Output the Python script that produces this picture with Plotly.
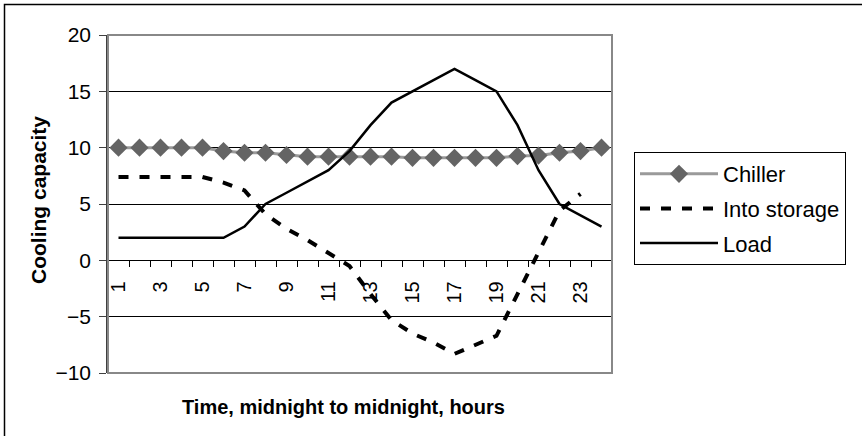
import plotly.graph_objects as go

hours = list(range(1, 25))
tick_hours = [1, 3, 5, 7, 9, 11, 13, 15, 17, 19, 21, 23]
tick_labels = [str(h) for h in tick_hours]

chiller = [10, 10, 10, 10, 10, 9.7, 9.55, 9.55, 9.35, 9.2, 9.2, 9.2,
           9.2, 9.2, 9.1, 9.1, 9.1, 9.1, 9.1, 9.25, 9.3, 9.55, 9.7, 10]
into_storage = [7.4, 7.4, 7.4, 7.4, 7.4, 6.9, 6.2, 4.1, 2.8, 1.8, 0.6, -0.5,
                -3.0, -5.3, -6.5, -7.3, -8.3, -7.5, -6.7, -3.0, 0.8, 4.4, 5.9, None]
load = [2, 2, 2, 2, 2, 2, 3, 5, 6, 7, 8, 9.7,
        12, 14, 15, 16, 17, 16, 15, 12, 8, 5, 4, 3]

y_ticks = [-10, -5, 0, 5, 10, 15, 20]
y_tick_text = ["\u221210", "\u22125", "0", "5", "10", "15", "20"]

W, H = 862, 436
L, R, T, B = 108, 612, 35, 373
pw, ph = R - L, B - T

def px(x):
    return (x - L) / pw

def py(y):
    return (B - y) / ph

FONT = "Liberation Sans, Arial, sans-serif"

fig = go.Figure()
fig.add_trace(go.Scatter(
    x=hours, y=chiller, name="Chiller", mode="lines+markers",
    line=dict(color="#9a9a9a", width=3),
    marker=dict(symbol="diamond", size=14, color="#646464"),
    legendgroup="a"))
fig.add_trace(go.Scatter(
    x=hours, y=into_storage, name="Into storage", mode="lines",
    line=dict(color="black", width=4, dash="10px,11px"),
    legendgroup="b"))
fig.add_trace(go.Scatter(
    x=hours, y=load, name="Load", mode="lines",
    line=dict(color="black", width=2.5),
    legendgroup="c"))

fig.update_layout(
    template="none",
    width=W, height=H,
    margin=dict(l=L, r=W - R, t=T, b=H - B, autoexpand=False),
    paper_bgcolor="white", plot_bgcolor="white",
    font=dict(family=FONT, size=20, color="black"),
    showlegend=True,
    legend=dict(
        x=px(634), y=py(152), xanchor="left", yanchor="top",
        bordercolor="black", borderwidth=1, bgcolor="white",
        font=dict(size=22), tracegroupgap=3, itemwidth=78,
    ),
    xaxis=dict(
        range=[0.5, 24.5], anchor="free", position=1 / 3,
        showgrid=False, zeroline=False, automargin=False,
        showline=True, linecolor="black", linewidth=1,
        tickmode="array", tickvals=tick_hours, ticktext=tick_labels,
        ticks="", tickangle=-90, ticklabelstandoff=12,
        tickfont=dict(size=20),
        minor=dict(tickmode="linear", tick0=0.5, dtick=1, ticks="outside",
                   ticklen=6, tickcolor="black", tickwidth=1, showgrid=False),
    ),
    yaxis=dict(
        range=[-10, 20], tickmode="array", tickvals=y_ticks, ticktext=y_tick_text,
        showgrid=True, gridcolor="black", gridwidth=1, zeroline=False,
        automargin=False,
        showline=True, linecolor="#404040", linewidth=1.5,
        ticks="outside", ticklen=7, tickcolor="#404040", ticklabelstandoff=4,
        tickfont=dict(size=21),
    ),
    shapes=[
        dict(type="rect", xref="paper", yref="paper", x0=0, x1=1, y0=0, y1=1,
             line=dict(color="#888888", width=2), layer="above"),
        dict(type="rect", xref="paper", yref="paper",
             x0=px(4.5), x1=px(W + 20), y0=py(H + 20), y1=py(4.5),
             line=dict(color="black", width=1.5)),
    ],
    annotations=[
        dict(text="<b>Cooling capacity</b>", textangle=-90,
             xref="paper", yref="paper", x=px(38), y=py(200),
             xanchor="center", yanchor="middle",
             showarrow=False, font=dict(size=21)),
        dict(text="<b>Time, midnight to midnight, hours</b>",
             xref="paper", yref="paper", x=px(343), y=py(407),
             xanchor="center", yanchor="middle",
             showarrow=False, font=dict(size=20)),
    ],
)

fig.write_html("out.html", config={"displayModeBar": False},
               post_script="document.body.style.margin='0';")
